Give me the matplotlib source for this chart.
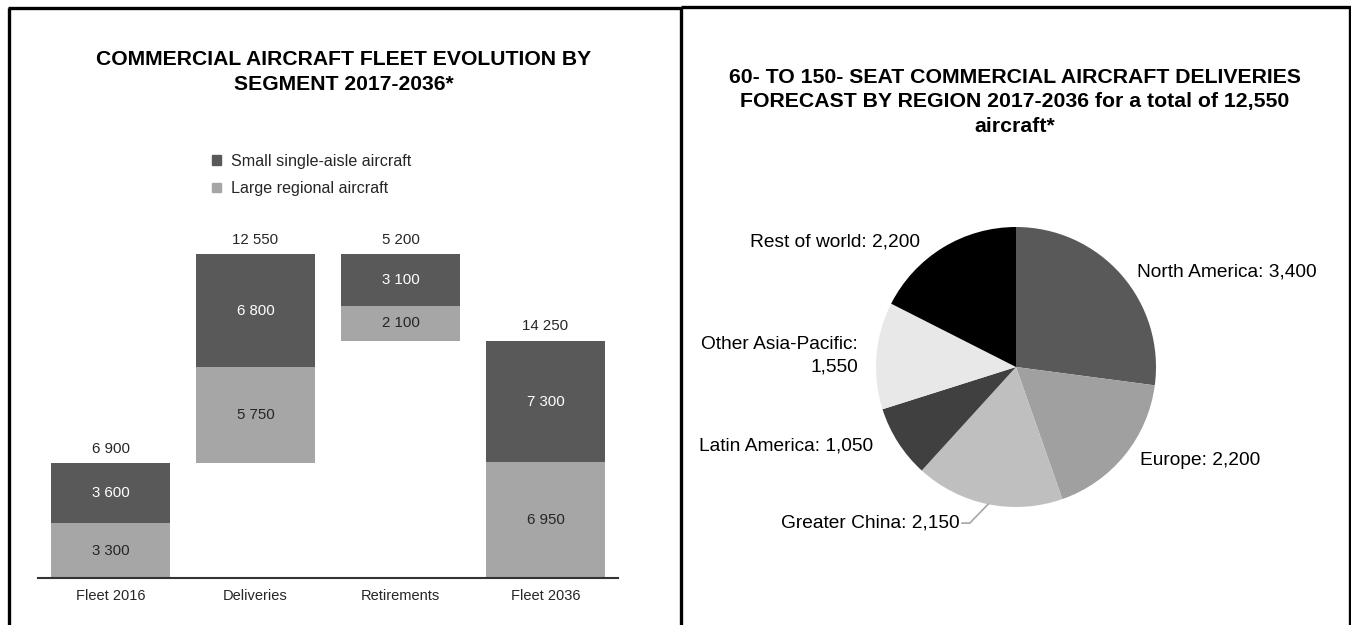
import numpy as np
import matplotlib.pyplot as plt
from matplotlib.patches import Patch
from matplotlib.lines import Line2D

plt.rcParams['font.family'] = ['Liberation Sans', 'DejaVu Sans']

# fleet evolution by segment, 2017-2036
steps = ['Fleet 2016', 'Deliveries', 'Retirements', 'Fleet 2036']
regional = [3300, 5750, 2100, 6950]
single_aisle = [3600, 6800, 3100, 7300]

# 60-150 seat deliveries by region
regions = ['North America', 'Europe', 'Greater China', 'Latin America',
           'Other Asia-Pacific', 'Rest of world']
deliveries = [3400, 2200, 2150, 1050, 1550, 2200]

DARK = '#595959'
LIGHT = '#a6a6a6'
TXT = '#262626'

W, H = 1351, 625
fig = plt.figure(figsize=(W / 100, H / 100), dpi=100)
fig.patch.set_facecolor('white')


def box(x0, y0, x1, y1):
    # pixel box (top-left origin) -> figure rect
    return [x0 / W, 1 - y1 / H, (x1 - x0) / W, (y1 - y0) / H]


def spaced(v):
    return f'{v:,}'.replace(',', ' ')


# panel frames
frame = dict(color='black', lw=2.4, solid_capstyle='butt', transform=fig.transFigure)
for xs, ys in [((8, 681), (8, 8)), ((9, 9), (8, 625)),
               ((681, 1351), (6.5, 6.5)), ((681, 681), (6.5, 625)),
               ((1349.5, 1349.5), (6.5, 625))]:
    fig.add_artist(Line2D([x / W for x in xs], [1 - y / H for y in ys], **frame))

# ---- waterfall ----
totals = [r + s for r, s in zip(regional, single_aisle)]
bases = [0, totals[0], totals[0] + totals[1] - totals[2], 0]

ymax = 21000
scale = 0.01665
ax = fig.add_axes(box(38, 578 - ymax * scale, 618, 578))
x = np.arange(len(steps))
ax.bar(x, regional, 0.82, bottom=bases, color=LIGHT, label='Large regional aircraft')
ax.bar(x, single_aisle, 0.82, bottom=np.add(bases, regional), color=DARK,
       label='Small single-aisle aircraft')
for i in range(len(steps)):
    b = bases[i]
    ax.text(x[i], b + regional[i] / 2, spaced(regional[i]), ha='center', va='center',
            fontsize=10.8, color=TXT)
    ax.text(x[i], b + regional[i] + single_aisle[i] / 2, spaced(single_aisle[i]),
            ha='center', va='center', fontsize=10.8, color='white')
    ax.annotate(spaced(totals[i]), (x[i], b + totals[i]), xytext=(0, 10.5),
                textcoords='offset points', ha='center', va='center',
                fontsize=10.8, color=TXT, annotation_clip=False)

ax.set_xlim(-0.5, 3.5)
ax.set_ylim(0, ymax)
ax.set_xticks(x, steps)
ax.set_yticks([])
ax.tick_params(axis='x', length=0, pad=8, labelsize=10.5, labelcolor=TXT)
for s in ['top', 'right', 'left']:
    ax.spines[s].set_visible(False)
ax.spines['bottom'].set_color('#333333')
ax.spines['bottom'].set_linewidth(1.5)

handles = [Patch(color=DARK), Patch(color=LIGHT)]
fig.legend(handles, ['Small single-aisle aircraft', 'Large regional aircraft'],
           loc='upper left', bbox_to_anchor=(212 / W, 1 - 154 / H), frameon=False,
           fontsize=11.6, labelcolor=TXT, handlelength=0.55, handleheight=0.55,
           handletextpad=0.65, labelspacing=0.75, borderpad=0, borderaxespad=0)

fig.text(344 / W, 1 - 72 / H,
         'COMMERCIAL AIRCRAFT FLEET EVOLUTION BY\nSEGMENT 2017-2036*',
         ha='center', va='center', fontsize=15.2, fontweight='bold', linespacing=1.35)

# ---- pie ----
cx, cy, r = 1016, 367, 140
pax = fig.add_axes(box(cx - r, cy - r, cx + r, cy + r))
pie_colors = [DARK, '#a0a0a0', '#bfbfbf', '#404040', '#e8e8e8', 'black']
pax.pie(deliveries, colors=pie_colors, startangle=90, counterclock=False,
        radius=1, wedgeprops=dict(linewidth=0))
pax.set_xlim(-1, 1)
pax.set_ylim(-1, 1)
pax.set_aspect('equal')

labels = [f'{n}: {v:,}' for n, v in zip(regions, deliveries)]
labels[4] = labels[4].replace(': ', ':\n')
label_pos = [(0.864, 0.679, 'left'), (0.886, -0.671, 'left'),
             (-0.40, -1.115, 'right'), (-1.021, -0.564, 'right'),
             (-1.129, 0.079, 'right'), (-0.686, 0.893, 'right')]
for lab, (lx, ly, ha) in zip(labels, label_pos):
    pax.text(lx, ly, lab, ha=ha, va='center', fontsize=13.8, color='black',
             linespacing=1.4, multialignment='right', clip_on=False)

# leader for Greater China
frac = np.cumsum(deliveries) / sum(deliveries)
mid = np.deg2rad(90 - 360 * (frac[2] - deliveries[2] / sum(deliveries) / 2))
ex, ey = np.cos(mid), np.sin(mid)
pax.plot([-0.385, -0.33, ex], [-1.115, -1.115, ey], color='#a6a6a6', lw=1.2,
         clip_on=False)

fig.text(1015 / W, 1 - 102 / H,
         '60- TO 150- SEAT COMMERCIAL AIRCRAFT DELIVERIES\n'
         'FORECAST BY REGION 2017-2036 for a total of 12,550\naircraft*',
         ha='center', va='center', fontsize=15.3, fontweight='bold', linespacing=1.35)

fig.savefig('out.png', dpi=100, facecolor='white')
